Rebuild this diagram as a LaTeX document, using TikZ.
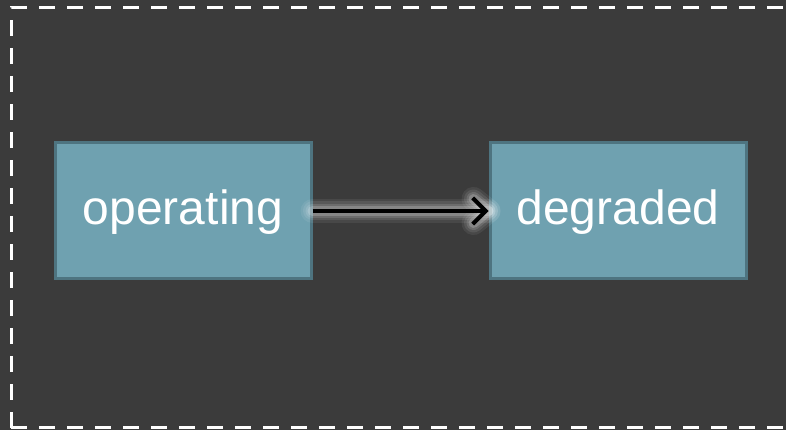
\documentclass[tikz,border=0pt]{standalone}
\usepackage{fontspec}
\setmainfont{Liberation Sans}
\usetikzlibrary{arrows.meta}
\definecolor{bgdark}{HTML}{3B3B3B}
\definecolor{boxfill}{HTML}{6FA1B0}
\definecolor{boxedge}{HTML}{4E7480}
\begin{document}
\begin{tikzpicture}[x=1pt,y=1pt,
  statebox/.style={draw=boxedge, line width=3pt, fill=boxfill,
    minimum width=256pt, minimum height=136pt, inner sep=0pt,
    text height=0pt, text depth=0pt,
    text=white, font=\fontsize{48}{54}\selectfont},
  glow/.style={line cap=round, line join=round, draw=white}
]
\useasboundingbox (0,0) rectangle (786,430);
\fill[bgdark] (0,0) rectangle (786,430);
\begin{scope}
  \clip (0,0) rectangle (786,430);
  \draw[white, line width=3pt, dash pattern=on 16pt off 12pt]
    (11,2) -- (11,422) -- (800,422);
  \draw[white, line width=3pt, dash pattern=on 16pt off 12pt]
    (11,2) -- (800,2);
\end{scope}
% label baselines sit 14pt below the box centres
\node[statebox] (op) at (183,219) {\raisebox{-14pt}{operating}};
\node[statebox] (deg) at (618,219) {\raisebox{-14pt}{degraded}};
% soft halo behind the transition
\foreach \w/\o in {24/0.07,19/0.09,14/0.12,10/0.18}{
  \draw[glow, line width=\w pt, draw opacity=\o] (op.east) -- (deg.west);
  \draw[glow, line width=\w pt, draw opacity=\o] ([xshift=-15pt,yshift=12pt]deg.west) -- (deg.west) -- ([xshift=-15pt,yshift=-12pt]deg.west);
}
\draw[black, line width=4pt, -{Straight Barb[length=13pt,width=26pt,line width=4pt]}] (op.east) -- (deg.west);
\end{tikzpicture}
\end{document}
